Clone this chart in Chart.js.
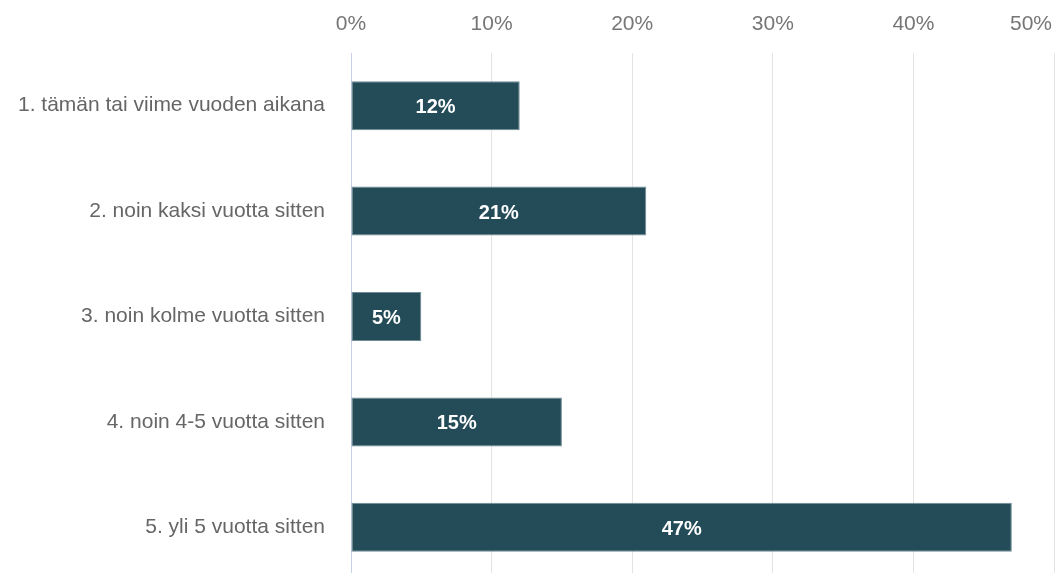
<!DOCTYPE html>
<html>
<head>
<meta charset="utf-8">
<script src="https://cdn.jsdelivr.net/npm/chart.js@4.4.1/dist/chart.umd.min.js"></script>
<style>
  html, body { margin: 0; padding: 0; background: #fff; overflow: hidden; }
  canvas { display: block; }
</style>
</head>
<body>
<canvas id="c" width="1056" height="590"></canvas>
<script>
// Answer categories (y axis) and their shares in percent
const categories = [
  '1. tämän tai viime vuoden aikana',
  '2. noin kaksi vuotta sitten',
  '3. noin kolme vuotta sitten',
  '4. noin 4-5 vuotta sitten',
  '5. yli 5 vuotta sitten'
];
const shares = [12, 21, 5, 15, 47];
const tickValues = [0, 10, 20, 30, 40, 50];
const tickLabels = ['0%', '10%', '20%', '30%', '40%', '50%'];

const FONT = '"Liberation Sans", Arial, Helvetica, sans-serif';
Chart.defaults.font.family = FONT;

// Top axis labels, with the last one kept inside the canvas
const topAxisLabels = {
  id: 'topAxisLabels',
  afterDraw(chart) {
    const ctx = chart.ctx;
    const sx = chart.scales.x;
    ctx.save();
    ctx.font = '21px ' + FONT;
    ctx.fillStyle = '#767676';
    ctx.textBaseline = 'middle';
    ctx.textAlign = 'left';
    tickValues.forEach((v, i) => {
      const txt = tickLabels[i];
      const w = ctx.measureText(txt).width;
      let left = sx.getPixelForValue(v) - w / 2;
      if (left + w > chart.width - 4) left = chart.width - 4 - w;
      ctx.fillText(txt, left, 24);
    });
    ctx.restore();
  }
};

// Value labels centred inside each bar
const barValueLabels = {
  id: 'barValueLabels',
  afterDatasetsDraw(chart) {
    const ctx = chart.ctx;
    const meta = chart.getDatasetMeta(0);
    ctx.save();
    ctx.font = 'bold 20px ' + FONT;
    ctx.fillStyle = '#ffffff';
    ctx.textAlign = 'center';
    ctx.textBaseline = 'middle';
    meta.data.forEach((bar, i) => {
      const p = bar.getProps(['x', 'y', 'base'], true);
      ctx.fillText(shares[i] + '%', (p.x + p.base) / 2, p.y + 2);
    });
    ctx.restore();
  }
};

new Chart(document.getElementById('c'), {
  type: 'bar',
  data: {
    labels: categories,
    datasets: [{
      data: shares,
      backgroundColor: '#234b58',
      borderColor: '#6d8c95',
      borderWidth: 1,
      borderSkipped: false,
      categoryPercentage: 1,
      barPercentage: 0.465
    }]
  },
  options: {
    indexAxis: 'y',
    responsive: false,
    animation: false,
    layout: { padding: { top: 0, right: 2, bottom: 10, left: 0 } },
    plugins: {
      legend: { display: false },
      tooltip: { enabled: false }
    },
    scales: {
      x: {
        position: 'top',
        min: 0,
        max: 50,
        ticks: { stepSize: 10, display: false },
        grid: {
          drawTicks: false,
          lineWidth: 1,
          color: c => (c.tick && c.tick.value === 0) ? '#c6d1e6' : '#e3e3e3'
        },
        border: { display: false },
        afterFit(s) {
          s.height = 53;
          s.paddingLeft = 0;
          s.paddingRight = 0;
        }
      },
      y: {
        ticks: {
          color: '#666666',
          font: { size: 21 },
          padding: 26
        },
        grid: { display: false, drawTicks: false },
        border: { display: false },
        afterFit(s) {
          s.width = 351;
          s.paddingTop = 0;
          s.paddingBottom = 0;
        }
      }
    }
  },
  plugins: [topAxisLabels, barValueLabels]
});
</script>
</body>
</html>
